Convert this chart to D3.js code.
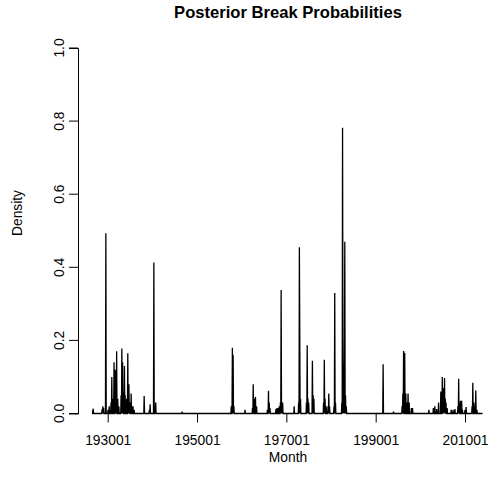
<!DOCTYPE html>
<html>
<head>
<meta charset="utf-8">
<script src="https://cdn.jsdelivr.net/npm/d3@7"></script>
<style>
    body { margin: 0; background: #fff; }
    text { font-family: "Liberation Sans", Arial, Helvetica, sans-serif; fill: #000; }
</style>
</head>
<body>
<svg id="svg" width="488" height="486"></svg>
<script>
// month range of the series (yyyymm)
const firstMonth = 192607;
const lastMonth = 201312;

// x axis ticks
const tickMonths = [193001, 195001, 197001, 199001, 201001];
const tickLabels = ['193001', '195001', '197001', '199001', '201001'];
const yTicks = [0, 0.2, 0.4, 0.6, 0.8, 1.0];

// months with a non-zero break probability
const peakMonths = [
    192609, 192610, 192810, 192812, 192902, 192908, 193002, 193005, 193010, 193012,
    193104, 193106, 193109, 193111, 193201, 193204, 193207, 193301, 193303, 193305,
    193307, 193310, 193312, 193404, 193407, 193409, 193410, 193412, 193504, 193506,
    193509, 193512, 193803, 193905, 193907, 194005, 194008, 194010, 194609,
    195709, 195712, 195802, 195804, 196010, 196206, 196208, 196211, 196302, 196305,
    196510, 196601, 196603, 196605, 196709, 196712, 196803, 196806, 196809, 196811,
    196901, 196903, 197110, 197210, 197212, 197301, 197303, 197407, 197409, 197411,
    197501, 197511, 197601, 197603, 197805, 197807, 197809, 197812, 197905, 197907,
    197909, 198009, 198011, 198101, 198206, 198208, 198209, 198211, 198301, 198302,
    198304, 198306, 199109, 199401, 199512, 199602, 199604, 199607, 199610, 199701,
    199704, 199707, 199801, 199804, 200112, 200212, 200304, 200309, 200402, 200408,
    200412, 200502, 200504, 200506, 200508, 200510, 200601, 200612, 200705, 200710,
    200806, 200808, 200810, 200901, 200904, 200906, 201001, 201004, 201108, 201110,
    201201, 201204, 201206, 201209
];
const peakValues = [
    0.008, 0.013, 0.012, 0.02, 0.015, 0.493, 0.01, 0.02, 0.03, 0.10,
    0.04, 0.14, 0.12, 0.03, 0.17, 0.04, 0.02, 0.05, 0.178, 0.14,
    0.06, 0.13, 0.05, 0.04, 0.165, 0.06, 0.08, 0.03, 0.055, 0.02,
    0.02, 0.01, 0.048, 0.01, 0.025, 0.413, 0.015, 0.03, 0.005,
    0.02, 0.18, 0.16, 0.02, 0.01, 0.015, 0.08, 0.04, 0.045, 0.02,
    0.01, 0.062, 0.03, 0.015, 0.012, 0.015, 0.015, 0.02, 0.03, 0.338,
    0.02, 0.03, 0.02, 0.03, 0.455, 0.225, 0.04, 0.03, 0.187, 0.04,
    0.03, 0.144, 0.05, 0.04, 0.03, 0.147, 0.04, 0.02, 0.02, 0.055,
    0.02, 0.02, 0.33, 0.03, 0.03, 0.782, 0.2, 0.13, 0.14, 0.47,
    0.05, 0.02, 0.135, 0.005, 0.02, 0.055, 0.171, 0.166, 0.055, 0.03,
    0.055, 0.03, 0.015, 0.015, 0.01, 0.015, 0.02, 0.012, 0.03, 0.06,
    0.10, 0.07, 0.05, 0.097, 0.04, 0.03, 0.015, 0.01, 0.01, 0.012,
    0.02, 0.095, 0.03, 0.035, 0.035, 0.01, 0.01, 0.018, 0.02, 0.084,
    0.03, 0.02, 0.063, 0.01
];

function monthIndex(yyyymm) {
    let y = Math.floor(yyyymm / 100), m = yyyymm % 100;
    let y0 = Math.floor(firstMonth / 100), m0 = firstMonth % 100;
    return (y - y0) * 12 + (m - m0);
}

let peaks = new Map(peakMonths.map((d, i) => [monthIndex(d), peakValues[i]]));
let n = monthIndex(lastMonth) + 1;
let series = d3.range(n).map(i => ({ i: i, v: peaks.get(i) || 0 }));

let svg = d3.select('#svg');

let x = d3.scaleLinear()
    .domain([monthIndex(193001), monthIndex(201001)])
    .range([107.7, 465]);
let y = d3.scaleLinear()
    .domain([0, 1])
    .range([413.5, 48]);

// series
let line = d3.line()
    .x(d => x(d.i))
    .y(d => y(d.v));
svg.append('path')
    .datum(series)
    .attr('d', line)
    .attr('fill', 'none')
    .attr('stroke', '#000')
    .attr('stroke-width', 1.3)
    .attr('stroke-linejoin', 'miter');

// y axis
let yAxis = svg.append('g')
    .attr('transform', 'translate(78,0)')
    .call(d3.axisLeft(y).tickValues(yTicks).tickSize(9).tickFormat(d3.format('.1f')));
yAxis.select('.domain').attr('stroke', '#000');
yAxis.selectAll('text')
    .attr('transform', d => `translate(${64 - 78 + 17},${y(d)}) rotate(-90)`)
    .attr('x', 0)
    .attr('y', 0)
    .attr('dy', 0)
    .attr('text-anchor', 'middle')
    .style('font-size', '13.8px')
    .style('font-family', '"Liberation Sans", Arial, sans-serif');
yAxis.selectAll('.tick text').attr('transform', d => `translate(-14,${y(d)}) rotate(-90)`);
yAxis.selectAll('.tick').attr('transform', null);
yAxis.selectAll('.tick line').attr('transform', d => `translate(0,${y(d)})`);

// x axis (ticks only, the series baseline acts as the line)
let xAxis = svg.append('g')
    .attr('transform', `translate(0,${y(0)})`)
    .call(d3.axisBottom(x).tickValues(tickMonths.map(monthIndex)).tickSize(9)
        .tickFormat((d, i) => tickLabels[i]));
xAxis.select('.domain').remove();
xAxis.selectAll('text')
    .attr('y', 0)
    .attr('dy', 31.5)
    .style('font-size', '13.8px')
    .style('font-family', '"Liberation Sans", Arial, sans-serif');

// titles
svg.append('text')
    .attr('x', 288)
    .attr('y', 18)
    .attr('text-anchor', 'middle')
    .style('font-size', '16.6px')
    .style('font-weight', 'bold')
    .text('Posterior Break Probabilities');
svg.append('text')
    .attr('x', 288)
    .attr('y', 462)
    .attr('text-anchor', 'middle')
    .style('font-size', '13.8px')
    .text('Month');
svg.append('text')
    .attr('transform', 'translate(22,213) rotate(-90)')
    .attr('text-anchor', 'middle')
    .style('font-size', '13.8px')
    .text('Density');
</script>
</body>
</html>
